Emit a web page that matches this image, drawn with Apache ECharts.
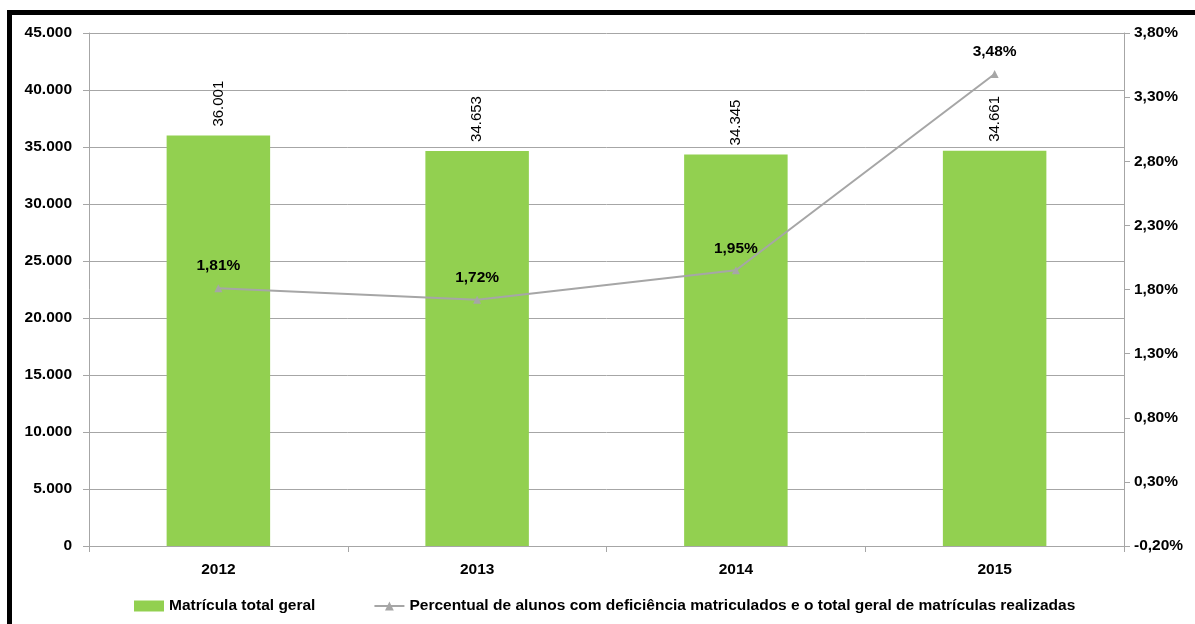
<!DOCTYPE html>
<html>
<head>
<meta charset="utf-8">
<script src="https://cdn.jsdelivr.net/npm/echarts@6/dist/echarts.min.js"></script>
<style>
html,body{margin:0;padding:0;background:#fff;}
#c{width:1195px;height:624px;}
</style>
</head>
<body>
<div id="c"></div>
<script>
const categories = ['2012', '2013', '2014', '2015'];
const matriculaTotal = [36001, 34653, 34345, 34661];
const percentual = [1.81, 1.72, 1.95, 3.48];
const rightTicks = [-0.2, 0.3, 0.8, 1.3, 1.8, 2.3, 2.8, 3.3, 3.8];
const barName = 'Matrícula total geral';
const lineName = 'Percentual de alunos com deficiência matriculados e o total geral de matrículas realizadas';

const FONT = 'Liberation Sans';
const fmtThousands = v => String(Math.round(v)).replace(/\B(?=(\d{3})+(?!\d))/g, '.');
const fmtPct = v => v.toFixed(2).replace('.', ',') + '%';

const chart = echarts.init(document.getElementById('c'), null, {renderer: 'canvas'});
chart.setOption({
  animation: false,
  backgroundColor: '#ffffff',
  textStyle: {fontFamily: FONT},
  graphic: [
    {type: 'rect', shape: {x: 7, y: 10, width: 1188, height: 5}, style: {fill: '#000'}},
    {type: 'rect', shape: {x: 7, y: 10, width: 5, height: 614}, style: {fill: '#000'}}
  ],
  grid: {left: 89, right: 71, top: 33, bottom: 78},
  legend: {
    bottom: 5,
    left: 129,
    itemGap: 58,
    itemWidth: 30,
    itemHeight: 11,
    textStyle: {fontFamily: FONT, fontWeight: 'bold', fontSize: 15.5, color: '#000'},
    data: [
      {name: barName, icon: 'rect'},
      {name: lineName}
    ]
  },
  xAxis: {
    type: 'category',
    data: categories,
    boundaryGap: true,
    axisLine: {lineStyle: {color: '#A6A6A6', width: 1}},
    axisTick: {show: true, length: 6, lineStyle: {color: '#A6A6A6'}},
    axisLabel: {fontFamily: FONT, fontWeight: 'bold', fontSize: 15.5, color: '#000', margin: 16}
  },
  yAxis: [
    {
      type: 'value',
      min: 0, max: 45000, interval: 5000,
      axisLine: {show: true, lineStyle: {color: '#A6A6A6'}},
      axisTick: {show: true, length: 6, lineStyle: {color: '#A6A6A6'}},
      splitLine: {show: true, lineStyle: {color: '#A6A6A6', width: 1}},
      axisLabel: {fontFamily: FONT, fontWeight: 'bold', fontSize: 15.5, color: '#000', margin: 17, formatter: fmtThousands}
    },
    {
      type: 'value',
      position: 'right',
      min: -0.2, max: 3.8,
      axisLine: {show: true, lineStyle: {color: '#A6A6A6'}},
      axisTick: {show: true, length: 6, lineStyle: {color: '#A6A6A6'}, customValues: rightTicks},
      splitLine: {show: false},
      axisLabel: {fontFamily: FONT, fontWeight: 'bold', fontSize: 15.5, color: '#000', margin: 10, customValues: rightTicks, formatter: fmtPct}
    }
  ],
  series: [
    {
      name: barName,
      type: 'bar',
      data: matriculaTotal,
      barWidth: '40%',
      itemStyle: {color: '#92D050'},
      label: {
        show: true, position: 'top', rotate: 90, align: 'left', verticalAlign: 'middle', distance: 9,
        fontFamily: FONT, fontSize: 15, color: '#000', formatter: p => fmtThousands(p.value)
      }
    },
    {
      name: lineName,
      type: 'line',
      yAxisIndex: 1,
      data: percentual,
      symbol: 'triangle',
      symbolSize: 8,
      lineStyle: {color: '#A6A6A6', width: 2},
      itemStyle: {color: '#A6A6A6'},
      label: {
        show: true, position: 'top', distance: 10,
        fontFamily: FONT, fontWeight: 'bold', fontSize: 15.5, color: '#000', formatter: p => fmtPct(p.value)
      }
    }
  ]
});
</script>
</body>
</html>
